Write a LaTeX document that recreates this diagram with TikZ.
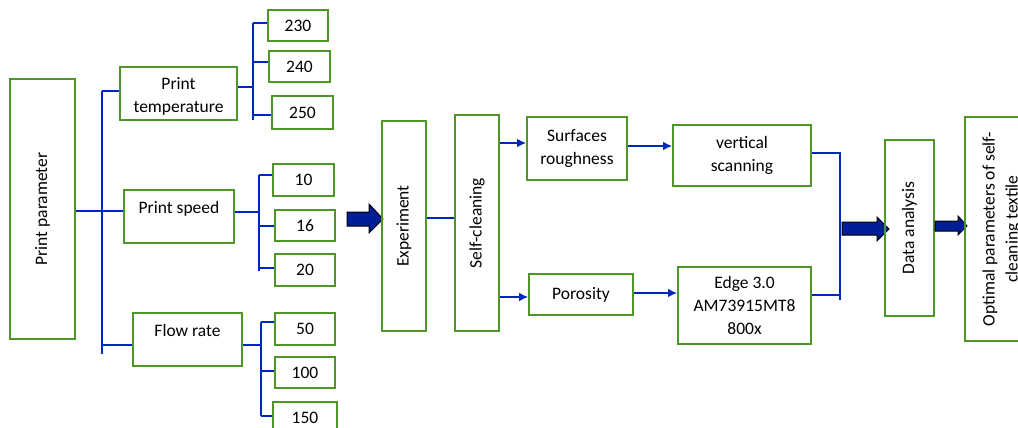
\documentclass[tikz,border=0pt]{standalone}
\usepackage{fontspec}
\setmainfont{Carlito}
\usetikzlibrary{arrows.meta}
\definecolor{bgreen}{RGB}{78,150,40}
\definecolor{lblue}{RGB}{0,40,190}
\definecolor{darr}{RGB}{0,30,150}
\newcommand\bx[7][]{\node[box,#1,minimum width={#5-#3},minimum height={#6-#4}] (#2) at ({(#3+#5)/2},{(#4+#6)/2}) {#7};}
\newcommand\rot[1]{\rotatebox{90}{\begin{tabular}{@{}c@{}}#1\end{tabular}}}
\begin{document}
\begin{tikzpicture}[x=1pt,y=-1pt,
  box/.style={draw=bgreen,line width=1.6pt,inner sep=0pt,align=center,font=\fontsize{17.5}{23}\selectfont},
  conn/.style={draw=lblue,line width=1.2pt},
  arr/.style={conn,line width=1.5pt,-{Latex[length=9pt,width=8.5pt]}},
  bigarrow/.style={fill=darr,draw=black,line width=1pt,line join=miter}]
\clip (0,0) rectangle (1018,428);
\fill[white] (0,0) rectangle (1018,428);
% left part
\bx{pp}{10}{79}{75}{339}{\rot{Print parameter}}
\bx[text depth=0pt]{temp}{120}{67}{237}{120}{\\[-8pt]Print\\temperature}
\bx{speed}{124}{190}{234}{243}{Print speed\\[-4pt]}
\bx{flow}{133}{313}{242}{366}{Flow rate\\[-4pt]}
\bx{t230}{268}{10}{328}{41}{230}
\bx{t240}{269}{51}{330}{82}{240}
\bx{t250}{272}{96}{333}{129}{250}
\bx{s10}{273}{164}{334}{196}{10}
\bx{s16}{275}{210}{335}{241}{16}
\bx{s20}{275}{254}{335}{286}{20}
\bx{f50}{275}{313}{335}{345}{50}
\bx{f100}{275}{357}{335}{388}{100}
\bx{f150}{273}{402}{337}{433}{150}
% spine
\coordinate (spT) at (102,91);
\coordinate (spB) at (102,354);
\draw[conn] (spT) -- (spB);
\draw[conn,line width=2.2pt] (pp.east |- 0,211) -- (speed.west |- 0,211);
\draw[conn] (spT) -- (temp.west |- spT);
\draw[conn] (102,345) -- (flow.west |- 0,345);
% temperature branch
\coordinate (tT) at (253,23);
\coordinate (tB) at (253,120);
\draw[conn] (tT) -- (tB);
\draw[conn] (temp.east |- 0,87) -- (253,87);
\draw[conn] (tT) -- (t230.west |- tT);
\draw[conn] (253,62) -- (t240.west |- 0,62);
\draw[conn] (253,115) -- (t250.west |- 0,115);
% speed branch
\coordinate (sT) at (259,175);
\coordinate (sB) at (259,271);
\draw[conn] (sT) -- (sB);
\draw[conn] (speed.east |- 0,212) -- (259,212);
\draw[conn] (sT) -- (s10.west |- sT);
\draw[conn] (259,226) -- (s16.west |- 0,226);
\draw[conn] (259,268) -- (s20.west |- 0,268);
% flow branch
\coordinate (fT) at (261,322);
\coordinate (fB) at (261,416);
\draw[conn] (fT) -- (fB);
\draw[conn] (flow.east |- 0,345) -- (261,345);
\draw[conn] (fT) -- (f50.west |- fT);
\draw[conn] (261,371) -- (f100.west |- 0,371);
\draw[conn] (261,416) -- (f150.west |- 0,416);
% big arrow 1
\draw[bigarrow] (347,212) -- (369,212) -- (369,204) -- (383,219) -- (369,233) -- (369,226) -- (347,226) -- cycle;
% middle
\bx{exp}{382}{121}{426}{331}{\rot{Experiment}}
\bx{sc}{455}{115}{499}{331}{\rot{Self-cleaning}}
\draw[conn] (exp.east |- 0,218) -- (sc.west |- 0,218);
\bx{surf}{527}{117}{627}{180}{Surfaces\\roughness}
\bx{por}{529}{274}{633}{315}{Porosity}
\bx{vs}{673}{125}{811}{186}{vertical\\scanning}
\bx{edge}{678}{267}{811}{344}{Edge 3.0\\AM73915MT8\\800x}
\draw[arr] (sc.east |- 0,143) -- (surf.west |- 0,143);
\draw[arr] (sc.east |- 0,297) -- (por.west |- 0,297);
\draw[arr] (surf.east |- 0,146) -- (vs.west |- 0,146);
\draw[arr] (por.east |- 0,293) -- (edge.west |- 0,293);
% right merge
\coordinate (mT) at (840,152);
\coordinate (mB) at (840,300);
\draw[conn] (mT) -- (mB);
\draw[conn] (vs.east |- 0,153) -- (840,153);
\draw[conn] (edge.east |- 0,295) -- (840,295);
\draw[bigarrow] (842,222) -- (877,222) -- (877,217) -- (889,229) -- (877,241) -- (877,235) -- (842,235) -- cycle;
\bx{da}{885}{140}{934}{316}{\rot{Data analysis}}
\draw[bigarrow] (935,221) -- (958,221) -- (958,216) -- (967,226) -- (958,235) -- (958,231) -- (935,231) -- cycle;
\bx{opt}{965}{117}{1038}{341}{\rot{Optimal parameters of self-\\cleaning textile}}
\end{tikzpicture}
\end{document}
